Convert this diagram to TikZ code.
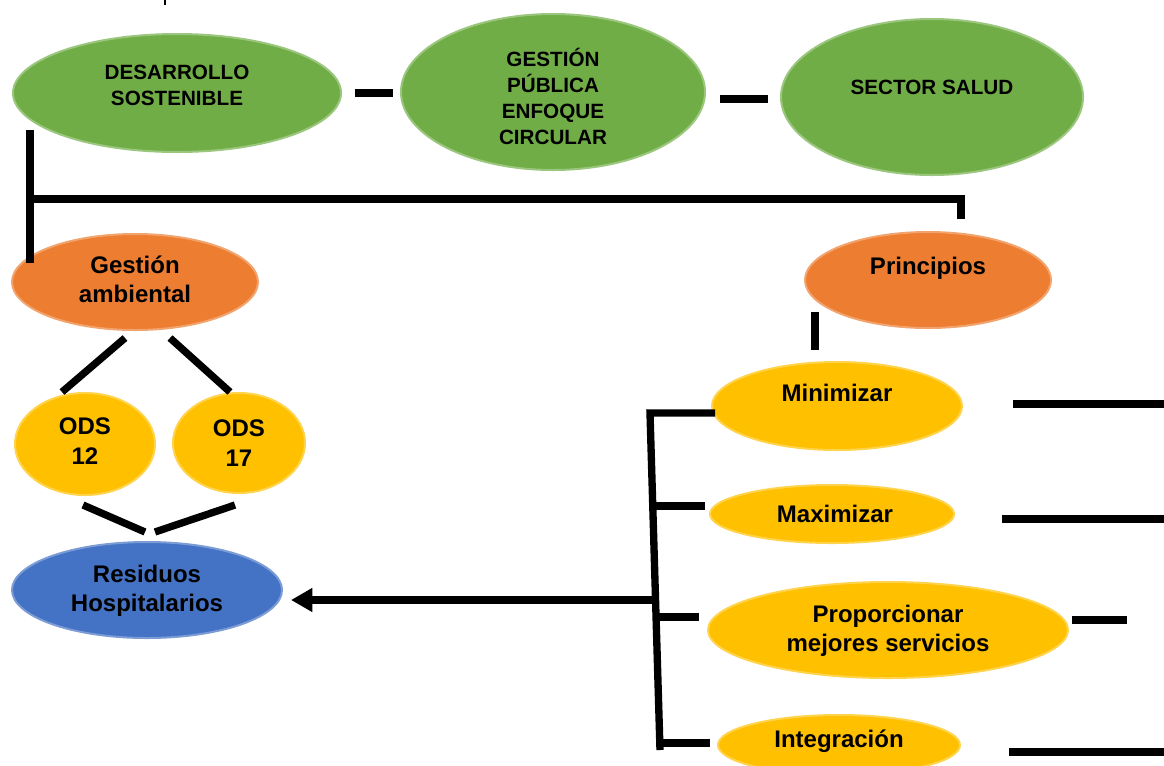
\documentclass[tikz,border=0pt]{standalone}
\usepackage{fontspec}
\setmainfont{Liberation Sans}
\usetikzlibrary{shapes.geometric,arrows.meta}
\definecolor{cgreen}{HTML}{70AD47}
\definecolor{corange}{HTML}{ED7D31}
\definecolor{cyellow}{HTML}{FFC000}
\definecolor{cblue}{HTML}{4472C4}
\begin{document}
\begin{tikzpicture}[x=0.75pt,y=-0.75pt,
  ell/.style={ellipse,inner sep=0pt,draw=#1!70!white,line width=1.5pt,fill=#1},
  lbl/.style={font=\bfseries\fontsize{18}{22}\selectfont,align=center,inner sep=0pt},
  toplbl/.style={font=\bfseries\fontsize{15.5}{19.5}\selectfont,align=center,inner sep=0pt},
  ln/.style={line width=5.5pt},
  bar/.style={line width=6pt}]
\useasboundingbox (0,0) rectangle (1164,765);
% ellipses
\node[ell=cgreen,minimum width=246pt,minimum height=88.5pt] (ds) at (177,93) {};
\node[ell=cgreen,minimum width=228pt,minimum height=117pt] (gp) at (553,92) {};
\node[ell=cgreen,minimum width=226.5pt,minimum height=117pt] (ss) at (932,97) {};
\node[ell=corange,minimum width=184.5pt,minimum height=72pt] (ga) at (135,282) {};
\node[ell=corange,minimum width=184.5pt,minimum height=72pt] (pr) at (928,280) {};
\node[ell=cyellow,minimum width=105pt,minimum height=76.5pt] (o12) at (85,444) {};
\node[ell=cyellow,minimum width=99pt,minimum height=75pt] (o17) at (239,443) {};
\node[ell=cblue,minimum width=202.5pt,minimum height=72pt] (rh) at (147,590) {};
\node[ell=cyellow,minimum width=187.5pt,minimum height=66pt] (mi) at (837,406) {};
\node[ell=cyellow,minimum width=183pt,minimum height=43.5pt] (ma) at (832,514) {};
\node[ell=cyellow,minimum width=270pt,minimum height=72pt] (po) at (888,630) {};
\node[ell=cyellow,minimum width=181.5pt,minimum height=45pt] (in) at (839,745) {};
% labels
\node[toplbl] (tds) at (177,85) {DESARROLLO\\SOSTENIBLE};
\node[toplbl] (tgp) at (553,96) {GESTIÓN\\PÚBLICA\\ENFOQUE\\CIRCULAR};
\node[toplbl] (tss) at (932,87) {SECTOR SALUD};
\node[lbl] (tga) at (135,279) {Gestión\\ambiental};
\node[lbl] (tpr) at (928,268) {Principios};
\node[lbl] (to12) at (85,441) {ODS\\12};
\node[lbl] (to17) at (239,443) {ODS\\17};
\node[lbl] (trh) at (147,591) {Residuos\\Hospitalarios};
\node[lbl] (tmi) at (837,393) {Minimizar};
\node[lbl] (tma) at (835,514) {Maximizar};
\node[lbl] (tpo) at (888,631) {Proporcionar\\mejores servicios};
\node[lbl] (tin) at (839,741) {Integración};
% top dashes
\draw[bar] (355,93) -- (393,93);
\draw[bar] (720,99) -- (768,99);
% tree from DESARROLLO
\coordinate (a1) at (30,130);
\coordinate (a2) at (30,263);
\coordinate (a3) at (30,199);
\coordinate (a4) at (961,199);
\coordinate (a5) at (961,219);
\draw[ln] (a1) -- (a2);
\draw[ln] (a3) -- (a4) -- (a5);
\draw[ln] (815,312) -- (815,350);
% Gestion ambiental to ODS
\draw[ln] (125,338) -- (62,392);
\draw[ln] (170,338) -- (230,392);
\draw[ln] (83,505) -- (145,532);
\draw[ln] (155,532) -- (235,505);
% bracket
\coordinate (b1) at (650,413);
\coordinate (b4) at (660,750);
\coordinate (bm) at (654.5,600);
\draw[ln] (715,413) -- (b1) -- (b4);
\draw[ln] (655,506) -- (705,506);
\draw[ln] (657,617) -- (699,617);
\draw[ln] (660,743) -- (710,743);
\draw[ln,-{Triangle[length=16pt,width=17pt]},shorten >=6pt] (bm) -- (bm -| rh.east);
% right lines
\draw[bar] (1013,404) -- (1164,404);
\draw[bar] (1002,519) -- (1164,519);
\draw[bar] (1072,620) -- (1127,620);
\draw[bar] (1009,752) -- (1164,752);
% cut-off mark at top
\draw[line width=1.5pt] (165,0) -- (165,5);
\end{tikzpicture}
\end{document}
